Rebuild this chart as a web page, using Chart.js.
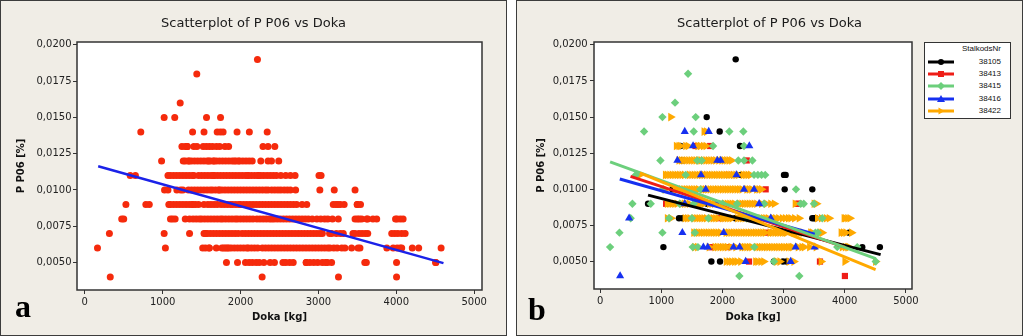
<!DOCTYPE html>
<html><head><meta charset="utf-8">
<script src="https://cdn.jsdelivr.net/npm/chart.js@4.4.1/dist/chart.umd.min.js"></script>
<style>
body{margin:0;background:#fff;width:1023px;height:336px;overflow:hidden;position:relative;font-family:'DejaVu Sans',sans-serif;}
.panel{position:absolute;top:0;width:505px;height:334px;border:1px solid #3c3c3c;background:#f0ede6;}
#pa{left:0}
#pb{left:516px}
.panel canvas{position:absolute;left:0;top:0}
.tag{position:absolute;font-family:'Liberation Serif',serif;font-weight:bold;font-size:32px;line-height:32px;color:#000}
#legend{position:absolute;left:407px;top:41px;width:85px;height:75px;border:1px solid #333;background:#fff;font-family:'Liberation Sans',sans-serif;font-size:8px;color:#111}
#legend .t{position:absolute;right:9px;line-height:10px;}
#legend svg{position:absolute;left:2px;width:28px;height:10px}
</style></head>
<body>
<div id="pa" class="panel"><canvas id="ca" width="505" height="334"></canvas><div class="tag" style="left:14px;top:289px">a</div></div>
<div id="pb" class="panel"><canvas id="cb" width="505" height="334"></canvas><div class="tag" style="left:11px;top:292px">b</div>
<div id="legend"></div></div>
<script>
// ---- data ----
const xTicks = [0, 1000, 2000, 3000, 4000, 5000];
const yTicks = [0.005, 0.0075, 0.01, 0.0125, 0.015, 0.0175, 0.02];
const groupNames = ['38105', '38413', '38415', '38416', '38422'];

// Doka values per P P06 level, one object per StalkodsNr group
const g38105 = {
  '0.019':[2217], '0.015':[1743], '0.014':[1955], '0.013':[1313,2288], '0.012':[1340],
  '0.011':[2298,3007,3034], '0.010':[1182,3018,3470], '0.009':[784,1750],
  '0.008':[1290,1345,2210,3470,3500,3524], '0.007':[3143,4069],
  '0.006':[1035,1850,4287,4575], '0.005':[1819,1961,2843,2990,3050]
};
const g38413 = {
  '0.013':[1560,1800], '0.012':[2397], '0.011':[2092], '0.010':[2707], '0.009':[1079,3225,3250],
  '0.008':[1960], '0.007':[2740], '0.006':[1808,1830,2100], '0.005':[2435,3595], '0.004':[4003]
};
const g38415 = {
  '0.018':[1438], '0.016':[1225], '0.015':[1019,1563], '0.014':[719,1531,2113,2342],
  '0.013':[1847,2353], '0.012':[986,1590,1660,2260,2353,2490],
  '0.011':[583,1400,2517,2580,2640,2700], '0.010':[1024,1640,3203],
  '0.009':[528,828,1300,1530,2000,2240,2680,3280,3330,3497],
  '0.008':[500,1128,1500,1770,2400,3633], '0.007':[316,1019,1550,3520,3560],
  '0.006':[163,1514,1600,2520,3878,4205], '0.005':[2843,4507], '0.004':[2277,3257]
};
const g38416 = {
  '0.014':[1384,1776], '0.013':[1520,2440], '0.012':[1264,1917,1972], '0.011':[1650,2230],
  '0.010':[1727,2353,2517], '0.009':[1384,1900,2600], '0.008':[474,2790], '0.007':[1345,2020],
  '0.006':[1689,1760,2180,2280,3197,3508], '0.005':[2380,3116], '0.004':[327]
};
const g38422 = {
  '0.015':[1155], '0.014':[1700,1740],
  '0.013':[1247,1290,1318,1400,1440,1600,1640,1690,1732],
  '0.012':[1290,1330,1370,1410,1450,1490,1530,1570,1610,1650,1690,1730,1770,1810,1850,1890,1940,1990,2030,2070,2110,2150],
  '0.011':[650,1068,1100,1140,1180,1220,1260,1300,1340,1380,1460,1500,1540,1580,1620,1660,1700,1740,1780,1820,1860,1900,1940,1980,2020,2060,2100,2140,2180,2220,2260,2340,2380,2420,2460],
  '0.010':[1068,1230,1260,1330,1370,1410,1450,1490,1530,1570,1610,1680,1720,1760,1800,1840,1880,1920,1960,2000,2040,2080,2120,2160,2200,2240,2280,2320,2400,2440,2480,2560,2600,2640],
  '0.009':[1100,1140,1180,1220,1260,1340,1380,1420,1460,1580,1620,1660,1700,1790,1830,1870,1940,1980,2040,2080,2120,2160,2200,2280,2320,2360,2400,2440,2480,2520,2560,2640,2720,2790,2850,3190,3500,3540],
  '0.008':[1100,1160,1390,1430,1470,1540,1580,1620,1660,1700,1740,1810,1850,1890,1930,2000,2040,2080,2120,2160,2250,2290,2330,2370,2430,2470,2510,2550,2590,2630,2670,2710,2750,2830,2870,2920,2980,3030,3080,3120,3180,3255,3555,3619,3700,3748,3990,4010,4050,4087],
  '0.007':[1531,1570,1610,1650,1690,1730,1770,1810,1850,1890,1930,1970,2060,2100,2140,2180,2220,2260,2300,2340,2380,2420,2460,2500,2540,2580,2620,2660,2700,2780,2820,2860,2900,2940,2980,3020,3050,3170,3230,3280,3319,3443,3470,3600,3633,3941,3980,4020,4113],
  '0.006':[1550,1595,1784,1880,1920,1960,2000,2040,2080,2140,2220,2320,2360,2400,2440,2480,2560,2600,2640,2680,2720,2760,2800,2840,2880,2920,2960,3000,3040,3080,3120,3148,3240,3300,3340,3426,3533,3960,4010,4048,4069],
  '0.005':[2063,2110,2152,2200,2240,2299,2544,2580,2630,2676,2890,2940,3090,3169,3615,4003,4505]
};

// fitted regression lines (end points)
const fitAll   = [[172, 0.01163], [4605, 0.00495]];
const fit38105 = [[784, 0.0096], [4587, 0.00548]];
const fit38413 = [[497, 0.0109], [4003, 0.0060]];
const fit38415 = [[163, 0.0119], [4507, 0.0052]];
const fit38416 = [[322, 0.01072], [3508, 0.0069]];
const fit38422 = [[650, 0.01114], [4505, 0.00444]];

// ---- helpers ----
const toPts = g => Object.entries(g).flatMap(([y, xs]) => xs.map(x => ({x, y: +y})));
const toLine = f => f.map(([x, y]) => ({x, y}));
const groups = [g38105, g38413, g38415, g38416, g38422];
const fits = [fit38105, fit38413, fit38415, fit38416, fit38422];
const styles = [
  {color:'#000000', shape:'circle',   r:3.2, rot:0},
  {color:'#ee1d17', shape:'rect',     r:4.4, rot:0},
  {color:'#6ccf7c', shape:'rectRot',  r:4.2, rot:0},
  {color:'#1630f0', shape:'triangle', r:4.7, rot:0},
  {color:'#ffa900', shape:'triangle', r:5,   rot:90}
];
const ptOrder = [9, 8, 6, 5, 7];
const lnOrder = [4, 3, 1, 2, 0];

const tickFont = {family:'DejaVu Sans', size:10};
const titleFont = {family:'DejaVu Sans', size:10, weight:'bold'};

function scales(yTitlePad, yTickPad, xH, yW, rightW) {
  return {
    x: {
      type:'linear', position:'bottom', min:-100, max:5100,
      afterBuildTicks: s => { s.ticks = xTicks.map(v => ({value:v})); },
      afterFit: s => { s.height = xH; },
      grid: {display:true, drawOnChartArea:false, drawTicks:true, tickLength:4, color:'#333'},
      border: {display:false},
      ticks: {font:tickFont, color:'#222', padding:2, maxRotation:0, autoSkip:false, callback: v => String(v)},
      title: {display:true, text:'Doka [kg]', font:titleFont, color:'#111', padding:{top:0, bottom:12}}
    },
    y: {
      type:'linear', position:'left', min:0.0031, max:0.0202,
      afterBuildTicks: s => { s.ticks = yTicks.map(v => ({value:v})); },
      afterFit: s => { s.width = yW; },
      grid: {display:true, drawOnChartArea:false, drawTicks:true, tickLength:4, color:'#333'},
      border: {display:false},
      ticks: {font:tickFont, color:'#222', padding:yTickPad, autoSkip:false, callback: v => v.toFixed(4).replace('.', ',')},
      title: {display:true, text:'P P06 [%]', font:titleFont, color:'#111', padding:{top:yTitlePad, bottom:0}}
    },
    yr: {
      type:'linear', position:'right', display:true,
      afterFit: s => { s.width = rightW; },
      grid: {display:false}, border: {display:false}, ticks: {display:false}
    }
  };
}

const framePlugin = {
  id:'frame',
  beforeDatasetsDraw(chart) {
    const {ctx, chartArea:a} = chart;
    ctx.save(); ctx.fillStyle = '#ffffff';
    ctx.fillRect(a.left, a.top, a.right - a.left, a.bottom - a.top); ctx.restore();
  },
  afterDraw(chart) {
    const {ctx, chartArea:a} = chart;
    ctx.save(); ctx.strokeStyle = '#333'; ctx.lineWidth = 1.5;
    ctx.strokeRect(a.left, a.top, a.right - a.left, a.bottom - a.top); ctx.restore();
  }
};

function common(sc) {
  return {
    responsive:false, animation:false, devicePixelRatio:1, events:[],
    layout:{padding:0},
    plugins:{
      legend:{display:false}, tooltip:{enabled:false},
      title:{display:true, text:'Scatterplot of P P06 vs Doka', color:'#1a1a1a',
        font:{family:'DejaVu Sans', size:13, weight:'normal'}, padding:{top:15.2, bottom:10.2}}
    },
    scales: sc
  };
}

// ---- panel a ----
new Chart(document.getElementById('ca'), {
  type:'scatter',
  data:{datasets:[
    {data: toLine(fitAll), showLine:true, borderColor:'#1b22e8', borderWidth:2.5, pointRadius:0, yAxisID:'y', order:0},
    {data: groups.flatMap(toPts), pointStyle:'circle', pointRadius:3.5, pointHoverRadius:3.5,
     backgroundColor:'#f52a0c', borderColor:'#f52a0c', pointBorderWidth:0, yAxisID:'y', order:1}
  ]},
  options: common(scales(14.7, 1.5, 45, 76, 24)),
  plugins:[framePlugin]
});

// ---- panel b ----
const dsB = [];
groups.forEach((g, i) => {
  const s = styles[i];
  dsB.push({label:groupNames[i], data: toPts(g), pointStyle:s.shape, pointRadius:s.r, pointHoverRadius:s.r,
    pointRotation:s.rot, backgroundColor:s.color, borderColor:s.color, pointBorderWidth:0, yAxisID:'y', order:ptOrder[i]});
  dsB.push({label:groupNames[i] + ' fit', data: toLine(fits[i]), showLine:true, borderColor:s.color,
    borderWidth:3, pointRadius:0, yAxisID:'y', order:lnOrder[i]});
});
new Chart(document.getElementById('cb'), {
  type:'scatter',
  data:{datasets: dsB},
  options: common(scales(18.5, 2.3, 46, 77, 110)),
  plugins:[framePlugin]
});

// ---- legend for panel b ----
const leg = document.getElementById('legend');
const glyph = {
  circle: c => `<circle cx="14" cy="5" r="3" fill="${c}"/>`,
  rect: c => `<rect x="11" y="2" width="6" height="6" fill="${c}"/>`,
  rectRot: c => `<polygon points="14,1 18,5 14,9 10,5" fill="${c}"/>`,
  triangle: (c, rot) => rot ? `<polygon points="17.5,5 11.5,1.5 11.5,8.5" fill="${c}"/>` : `<polygon points="14,1 18,8 10,8" fill="${c}"/>`
};
let html = `<div class="t" style="top:1px">StalkodsNr</div>`;
groupNames.forEach((n, i) => {
  const s = styles[i];
  const cy = 18.7 + i * 12.3;
  html += `<svg style="top:${(cy - 5).toFixed(1)}px" viewBox="0 0 28 10"><line x1="1" y1="5" x2="27" y2="5" stroke="${s.color}" stroke-width="3"/>${glyph[s.shape](s.color, s.rot)}</svg>`;
  html += `<div class="t" style="top:${(cy - 5).toFixed(1)}px">${n}</div>`;
});
leg.innerHTML = html;
</script>
</body></html>
